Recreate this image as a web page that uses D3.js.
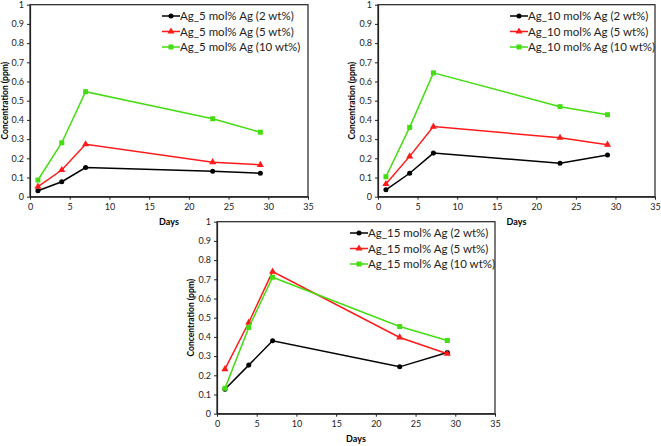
<!DOCTYPE html>
<html><head><meta charset="utf-8">
<script src="https://cdn.jsdelivr.net/npm/d3@7"></script>
<style>body{margin:0;background:#fff}svg{display:block;font-family:Lato,"Open Sans",sans-serif}</style>
</head><body><svg id="c" width="661" height="446"></svg>
<script>
const days = [1, 4, 7, 23, 29];
const xTicks = [0, 5, 10, 15, 20, 25, 30, 35];
const yTicks = [0, 0.1, 0.2, 0.3, 0.4, 0.5, 0.6, 0.7, 0.8, 0.9, 1];
const panelNames = ["Ag_5 mol% Ag", "Ag_10 mol% Ag", "Ag_15 mol% Ag"];
const seriesSuffix = ["(2 wt%)", "(5 wt%)", "(10 wt%)"];
// values per panel, per series (2, 5, 10 wt%)
const p5_2wt = [0.031, 0.078, 0.152, 0.133, 0.122];
const p5_5wt = [0.052, 0.139, 0.273, 0.180, 0.166];
const p5_10wt = [0.087, 0.281, 0.547, 0.406, 0.336];
const p10_2wt = [0.036, 0.122, 0.227, 0.174, 0.217];
const p10_5wt = [0.066, 0.210, 0.365, 0.307, 0.271];
const p10_10wt = [0.104, 0.361, 0.645, 0.469, 0.427];
const p15_2wt = [0.127, 0.253, 0.380, 0.244, 0.319];
const p15_5wt = [0.232, 0.475, 0.740, 0.397, 0.312];
const p15_10wt = [0.132, 0.449, 0.711, 0.454, 0.381];

const colors = ["#000000", "#ff1a1a", "#44dd11"];
const shapes = [d3.symbolCircle, d3.symbolTriangle, d3.symbolSquare];
const symSize = [20, 22, 25];

const panels = [
  {name: panelNames[0], data: [p5_2wt, p5_5wt, p5_10wt], l: 30, r: 308, t: 4.7, b: 196.7, lx: 162, ly: 16, ay: 5},
  {name: panelNames[1], data: [p10_2wt, p10_5wt, p10_10wt], l: 378, r: 655, t: 4.7, b: 196.7, lx: 510, ly: 16, ay: 352.5},
  {name: panelNames[2], data: [p15_2wt, p15_5wt, p15_10wt], l: 217, r: 495, t: 221.7, b: 413.7, lx: 350, ly: 233, ay: 191.5}
];

const svg = d3.select("#c");
panels.forEach(p => {
  const g = svg.append("g");
  const x = d3.scaleLinear().domain([0, 35]).range([p.l, p.r]);
  const y = d3.scaleLinear().domain([0, 1]).range([p.b, p.t]);
  // frame
  g.append("rect").attr("x", p.l).attr("y", p.t).attr("width", p.r - p.l).attr("height", p.b - p.t)
    .attr("fill", "none").attr("stroke", "#222").attr("stroke-width", 1.2);
  const xa = g.append("g").attr("transform", `translate(0,${p.b})`)
    .call(d3.axisBottom(x).tickValues(xTicks).tickSize(3).tickSizeOuter(0).tickPadding(4));
  const ya = g.append("g").attr("transform", `translate(${p.l},0)`)
    .call(d3.axisLeft(y).tickValues(yTicks).tickFormat(d => d3.format("~g")(d)).tickSize(3).tickSizeOuter(0).tickPadding(3));
  [xa, ya].forEach(a => {
    a.select(".domain").attr("stroke", "#222").attr("stroke-width", 1.2);
    a.selectAll(".tick line").attr("stroke", "#222");
    a.selectAll("text").attr("font-size", 9).attr("fill", "#222").attr("font-family", "Lato, sans-serif");
  });
  // axis titles
  g.append("text").attr("x", (p.l + p.r) / 2).attr("y", p.b + 28).attr("text-anchor", "middle")
    .attr("font-size", 9).attr("font-weight", "bold").text("Days");
  g.append("text").attr("transform", `translate(${p.ay},${(p.t + p.b) / 2}) rotate(-90)`)
    .attr("text-anchor", "middle").attr("dy", "0.35em").attr("font-size", 8.5).attr("font-weight", "bold").text("Concentration (ppm)");
  // series
  const line = d3.line().x((d, i) => x(days[i])).y(d => y(d));
  p.data.forEach((vals, si) => {
    g.append("path").datum(vals).attr("d", line).attr("fill", "none")
      .attr("stroke", colors[si]).attr("stroke-width", 1.5);
    g.selectAll(null).data(vals).enter().append("path")
      .attr("transform", (d, i) => `translate(${x(days[i])},${y(d)})`)
      .attr("d", d3.symbol().type(shapes[si]).size(symSize[si])).attr("fill", colors[si]);
    // legend
    const ly = p.ly + si * 15.5;
    g.append("line").attr("x1", p.lx).attr("x2", p.lx + 18).attr("y1", ly).attr("y2", ly)
      .attr("stroke", colors[si]).attr("stroke-width", 1.5);
    g.append("path").attr("transform", `translate(${p.lx + 9},${ly})`)
      .attr("d", d3.symbol().type(shapes[si]).size(symSize[si])).attr("fill", colors[si]);
    g.append("text").attr("x", p.lx + 18).attr("y", ly).attr("dy", "0.35em")
      .attr("font-size", 11.5).attr("fill", "#222").text(p.name + " " + seriesSuffix[si]);
  });
});
</script></body></html>
